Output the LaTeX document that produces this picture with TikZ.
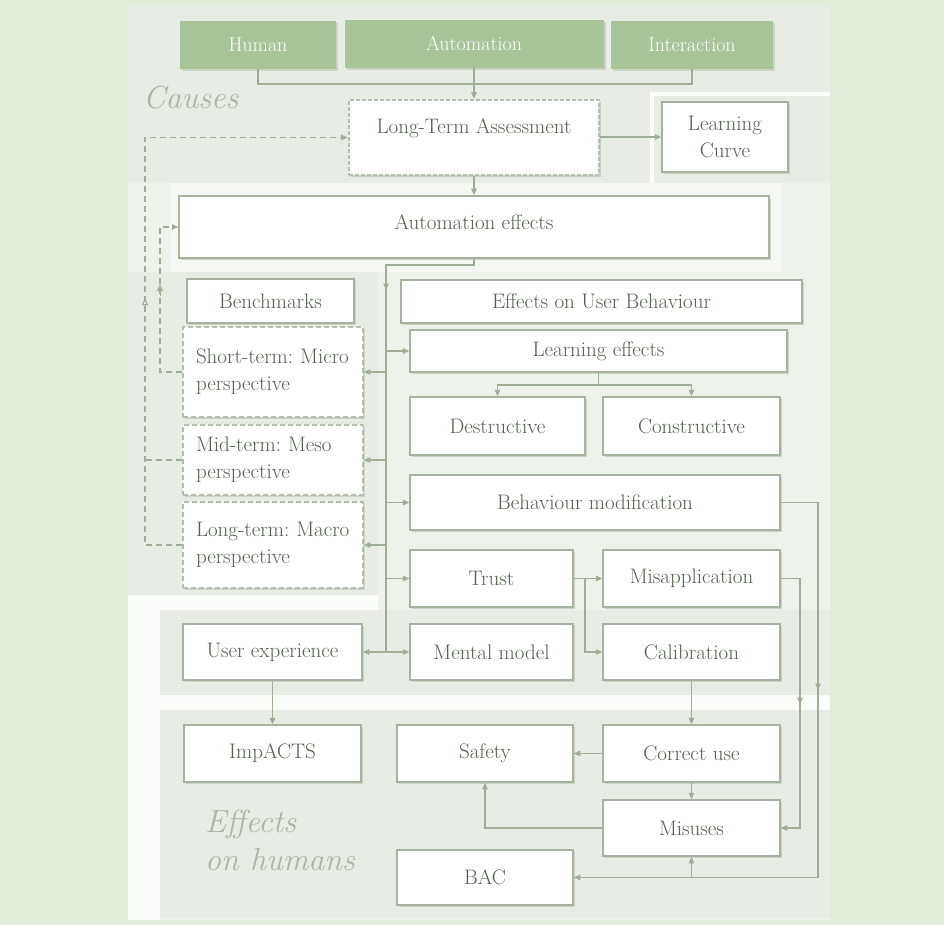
\documentclass[tikz,border=0pt]{standalone}
\usepackage{fontspec}
\usetikzlibrary{arrows.meta}
\definecolor{bgout}{HTML}{E1ECD9}
\definecolor{panel}{HTML}{EDF2EA}
\definecolor{regA}{HTML}{E7ECE4}
\definecolor{regLight}{HTML}{F4F7F2}
\definecolor{band}{HTML}{FAFCF9}
\definecolor{boxc}{HTML}{A5B39F}
\definecolor{dboxc}{HTML}{B4C0AE}
\definecolor{shadowc}{HTML}{CBD3C6}
\definecolor{linec}{HTML}{9EAE97}
\definecolor{txt}{HTML}{53614E}
\definecolor{hdrc}{HTML}{A9C49B}
\definecolor{bigt}{HTML}{A9B8A2}
\begin{document}
\frenchspacing
\begin{tikzpicture}[x=1pt,y=-1pt,
  shad/.style={preaction={fill=shadowc, transform canvas={xshift=2pt,yshift=-2pt}}},
  box/.style={draw=boxc, line width=1.5pt, fill=white, text=txt, inner sep=2pt,
    font=\fontsize{21}{27}\selectfont, align=center, shad},
  dbox/.style={box, draw=dboxc, dash pattern=on 5pt off 3pt, align=left,
    text width=154pt, inner xsep=13pt},
  ltabox/.style={box, draw=dboxc, line width=2.6pt, dash pattern=on 4pt off 2pt},
  hdr/.style={fill=hdrc, text=white, inner sep=2pt, font=\fontsize{20}{22}\selectfont, shad},
  plain/.style={text=txt, inner sep=0pt, font=\fontsize{21}{27}\selectfont},
  bigtext/.style={text=bigt, inner sep=0pt, font=\fontsize{32}{38}\selectfont\itshape, align=left},
  ln/.style={draw=linec, line width=1.2pt},
  arr/.style={ln, -{Triangle[length=6.5pt,width=5.5pt]}},
  dln/.style={ln, dash pattern=on 6pt off 4pt},
  darr/.style={dln, -{Triangle[length=6.5pt,width=5.5pt]}},
  otri/.style={draw=linec, line width=1pt, -{Triangle[open,length=7pt,width=6pt]}}
]
% backgrounds
\fill[bgout] (0,0) rectangle (944,925);
\fill[panel] (128,6) rectangle (830,920);
\fill[regA] (128,6) rectangle (830,92);
\fill[regA] (128,92) rectangle (650,183);
\fill[band] (650,92) rectangle (830,183);
\fill[regA] (654,96) rectangle (830,183);
\fill[regLight] (170,183) rectangle (782,272);
\fill[regA] (128,272) rectangle (378,595);
\fill[band] (128,595) rectangle (378,610);
\fill[band] (128,595) rectangle (160,920);
\fill[regA] (160,610) rectangle (830,695);
\fill[band] (160,695) rectangle (830,710);
\fill[regA] (160,710) rectangle (830,918);

% header
\node[hdr, minimum width=156, minimum height=48] (human) at (258,45) {Human};
\node[hdr, minimum width=259, minimum height=48] (automation) at (474,44) {Automation};
\node[hdr, minimum width=162, minimum height=48] (interaction) at (692,45) {Interaction};

\node[bigtext, anchor=west] (causes) at (143,98) {Causes};
\node[bigtext, anchor=north west] (effh) at (205,810) {Effects\\on humans};

% boxes
\node[ltabox, minimum width=250, minimum height=75] (lta) at (474,137.5) {};
\node[plain] (ltat) at (474,128) {Long-Term Assessment};
\node[box, minimum width=126, minimum height=70] (lc) at (725,137) {Learning\\Curve};
\node[box, minimum width=590, minimum height=62] (ae) at (474,227) {};
\node[plain] (aet) at (474,222) {Automation effects};

\node[box, minimum width=167, minimum height=44] (bench) at (270.5,301) {Benchmarks};
\node[dbox, minimum height=90] (short) at (273,372) {Short-term: Micro\\perspective};
\node[dbox, minimum height=70] (mid) at (273,460) {Mid-term: Meso\\perspective};
\node[dbox, minimum height=86] (long) at (273,545) {Long-term: Macro\\perspective};

\node[box, minimum width=401, minimum height=43] (eub) at (601.5,301.5) {Effects on User Behaviour};
\node[box, minimum width=377, minimum height=42] (le) at (598.5,351) {Learning effects};
\node[box, minimum width=175, minimum height=58] (destr) at (497.5,426) {Destructive};
\node[box, minimum width=177, minimum height=58] (constr) at (691.5,426) {Constructive};
\node[box, minimum width=370, minimum height=55] (bm) at (595,502.5) {Behaviour modification};
\node[box, minimum width=163, minimum height=57] (trust) at (491.5,578.5) {Trust};
\node[box, minimum width=177, minimum height=57] (misapp) at (691.5,578.5) {Misapplication};
\node[box, minimum width=163, minimum height=56] (mental) at (491.5,652) {Mental model};
\node[box, minimum width=177, minimum height=56] (calib) at (691.5,652) {Calibration};
\node[box, minimum width=179, minimum height=56] (ux) at (272.5,652) {User experience};
\node[box, minimum width=177, minimum height=57] (imp) at (272.5,753.5) {ImpACTS};
\node[box, minimum width=176, minimum height=57] (safety) at (485,753.5) {Safety};
\node[box, minimum width=177, minimum height=57] (correct) at (691.5,753.5) {Correct use};
\node[box, minimum width=177, minimum height=56] (misuses) at (691.5,828) {Misuses};
\node[box, minimum width=176, minimum height=55] (bac) at (485,877.5) {BAC};

% coordinates
\coordinate (hj) at (474,84);
\coordinate (t0) at (386,265);
\coordinate (tb) at (386,652);
\coordinate (lb) at (598.5,385);
\coordinate (tc) at (585,578.5);
\coordinate (bmr) at (818,877.5);
\coordinate (mr) at (800,828);
\coordinate (dl) at (145,137.5);
\coordinate (dl2) at (160,227);

% top connectors
\draw[ln] (human.south) |- (hj) -| (interaction.south);
\draw[arr] (automation.south) -- (lta.north);
\draw[arr] (lta.east |- lc.west) -- (lc.west);
\draw[arr] (lta.south) -- (ae.north);

% trunk
\draw[ln] (ae.south) |- (t0) -- (tb);
\draw[arr] (t0) -- (386,290);
\draw[arr] (short.east -| t0) -- (short.east);
\draw[arr] (mid.east -| t0) -- (mid.east);
\draw[arr] (long.east -| t0) -- (long.east);
\draw[arr] (le.west -| t0) -- (le.west);
\draw[arr] (bm.west -| t0) -- (bm.west);
\draw[arr] (trust.west -| t0) -- (trust.west);
\draw[arr] (tb) -- (mental.west);
\draw[arr] (tb) -- (ux.east);

% learning effects branch
\draw[ln] (le.south) -- (lb);
\draw[arr] (lb) -| (destr.north);
\draw[arr] (lb) -| (constr.north);

% trust
\draw[arr] (trust.east) -- (misapp.west);
\draw[arr] (tc) |- (calib.west);

% lower
\draw[arr] (ux.south) -- (imp.north);
\draw[arr] (calib.south) -- (correct.north);
\draw[arr] (correct.west) -- (safety.east);
\draw[arr] (correct.south) -- (misuses.north);
\draw[arr] (misuses.west) -| (safety.south);
\draw[arr] (bm.east) -| (bmr) -- (bac.east);
\draw[arr] (818,600) -- (818,690);
\draw[arr] (misuses.south |- bmr) -- (misuses.south);
\draw[arr] (misapp.east) -| (mr) -- (misuses.east);
\draw[arr] (800,640) -- (800,704);

% dashed feedback
\draw[darr] (long.west) -| (dl) -- (lta.west);
\draw[dln] (mid.west) -- (mid.west -| dl);
\draw[darr] (short.west) -| (dl2) -- (ae.west);
\draw[otri] (145,310) -- (145,298);
\draw[otri] (160,296) -- (160,284);
\end{tikzpicture}
\end{document}
